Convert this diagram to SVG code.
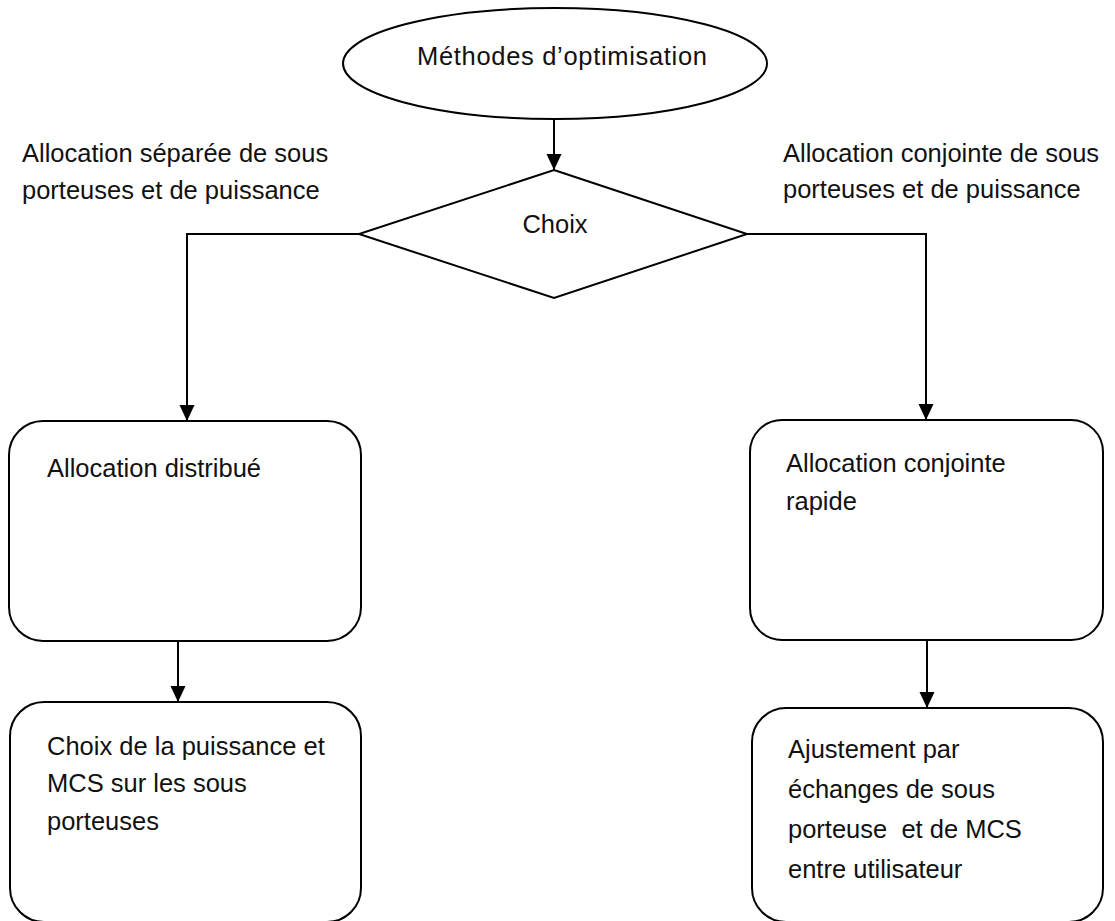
<svg xmlns="http://www.w3.org/2000/svg" width="1115" height="921" viewBox="0 0 1115 921">
  <style>
    .shape { fill: #ffffff; stroke: #000000; stroke-width: 2; }
    .link { fill: none; stroke: #000000; stroke-width: 2; }
    .lbl { font-family: "Liberation Sans", Arial, sans-serif; font-size: 25.5px; fill: #111111; }
    .mid { text-anchor: middle; }
  </style>
  <defs>
    <marker id="arrow" markerUnits="userSpaceOnUse" markerWidth="16" markerHeight="17" viewBox="0 0 17 16" refX="17" refY="8" orient="auto">
      <path d="M0,0 L17,8 L0,16 Z" fill="#000000"/>
    </marker>
  </defs>
  <rect width="1115" height="921" fill="#ffffff"/>

  <!-- connectors -->
  <g id="connectors">
    <line class="link" x1="554" y1="119" x2="554" y2="170" marker-end="url(#arrow)"/>
    <polyline class="link" points="359,234 187,234 187,421" marker-end="url(#arrow)"/>
    <polyline class="link" points="747,234 926,234 926,420" marker-end="url(#arrow)"/>
    <line class="link" x1="178" y1="641" x2="178" y2="702" marker-end="url(#arrow)"/>
    <line class="link" x1="927" y1="640" x2="927" y2="708" marker-end="url(#arrow)"/>
  </g>

  <!-- branch labels -->
  <g id="label-separee">
    <text class="lbl" x="22" y="162">Allocation séparée de sous</text>
    <text class="lbl" x="22" y="199">porteuses et de puissance</text>
  </g>
  <g id="label-conjointe">
    <text class="lbl" x="783" y="162">Allocation conjointe de sous</text>
    <text class="lbl" x="783" y="198">porteuses et de puissance</text>
  </g>

  <!-- start -->
  <g id="node-methodes">
    <ellipse class="shape" cx="555" cy="63.5" rx="212" ry="55.5"/>
    <text class="lbl" x="417" y="65" textLength="290" lengthAdjust="spacing">Méthodes d’optimisation</text>
  </g>

  <!-- decision -->
  <g id="node-choix">
    <polygon class="shape" points="554,170 747,234 554,298 359,234"/>
    <text class="lbl mid" x="555" y="233">Choix</text>
  </g>

  <!-- left branch -->
  <g id="node-distribue">
    <rect class="shape" x="9" y="421" width="352" height="220" rx="34" ry="34"/>
    <text class="lbl" x="47" y="477">Allocation distribué</text>
  </g>
  <g id="node-puissance">
    <rect class="shape" x="10" y="702" width="351" height="220" rx="34" ry="34"/>
    <text class="lbl" x="47" y="755">Choix de la puissance et</text>
    <text class="lbl" x="47" y="792">MCS sur les sous</text>
    <text class="lbl" x="47" y="830">porteuses</text>
  </g>

  <!-- right branch -->
  <g id="node-rapide">
    <rect class="shape" x="750" y="420" width="353" height="220" rx="32" ry="32"/>
    <text class="lbl" x="786" y="472">Allocation conjointe</text>
    <text class="lbl" x="786" y="510">rapide</text>
  </g>
  <g id="node-ajustement">
    <rect class="shape" x="752" y="708" width="351" height="214" rx="34" ry="34"/>
    <text class="lbl" x="788" y="758">Ajustement par</text>
    <text class="lbl" x="788" y="798">échanges de sous</text>
    <text class="lbl" x="788" y="838" style="white-space:pre">porteuse  et de MCS</text>
    <text class="lbl" x="788" y="878">entre utilisateur</text>
  </g>
</svg>
